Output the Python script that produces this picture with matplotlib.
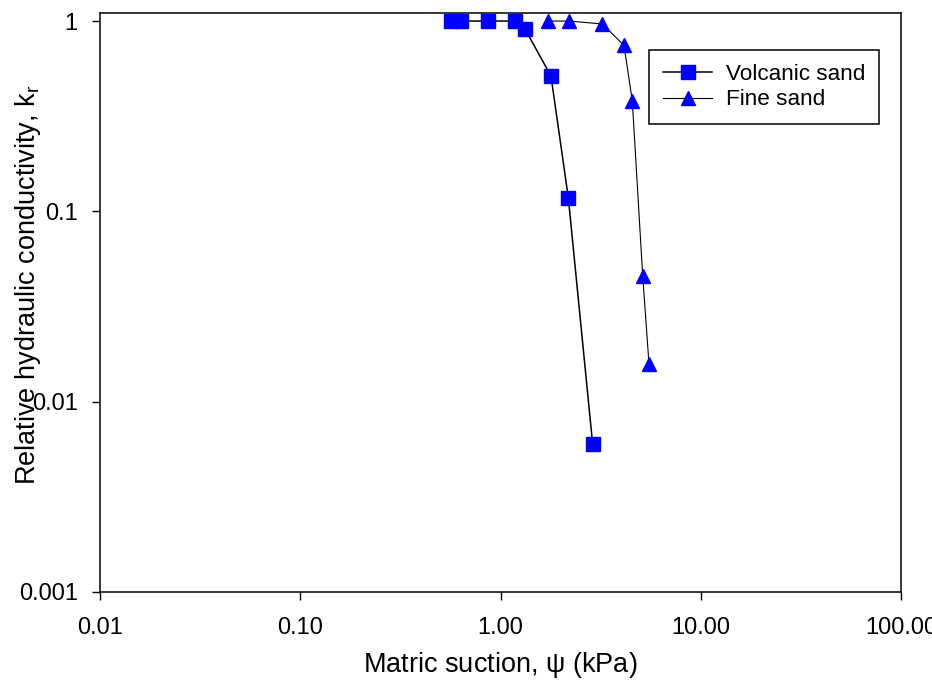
import matplotlib
matplotlib.use("Agg")
import matplotlib.pyplot as plt
from matplotlib.ticker import FixedLocator, FixedFormatter, NullLocator

plt.rcParams['font.family'] = ['Liberation Sans', 'DejaVu Sans']
plt.rcParams['mathtext.default'] = 'regular'

# Data
volcanic_x = [0.564, 0.633, 0.869, 1.181, 1.325, 1.787, 2.181, 2.886]
volcanic_y = [1.0, 1.0, 1.0, 1.0, 0.908, 0.514, 0.118, 0.00597]
fine_x = [1.733, 2.198, 3.225, 4.137, 4.551, 5.131, 5.515]
fine_y = [1.0, 1.0, 0.965, 0.745, 0.381, 0.0457, 0.0158]

x_ticks = [0.01, 0.1, 1, 10, 100]
x_tick_labels = ["0.01", "0.10", "1.00", "10.00", "100.00"]
y_ticks = [0.001, 0.01, 0.1, 1]
y_tick_labels = ["0.001", "0.01", "0.1", "1"]

W, H = 932, 684
fig = plt.figure(figsize=(W / 100, H / 100), dpi=100)
ax = fig.add_axes([100 / W, (H - 592) / H, (901 - 100) / W, (592 - 13.3) / H])

ax.plot(volcanic_x, volcanic_y, color='black', lw=1.1, marker='s', ms=9.5,
        mfc='#0000ff', mec='#0000ff', label='Volcanic sand', zorder=3)
ax.plot(fine_x, fine_y, color='black', lw=0.8, marker='^', ms=10.5,
        mfc='#0000ff', mec='#0000ff', label='Fine sand', zorder=3)

ax.set_xscale('log')
ax.set_yscale('log')
ax.set_xlim(0.01, 100)
ax.set_ylim(0.001, 1.098)

ax.xaxis.set_major_locator(FixedLocator(x_ticks))
ax.xaxis.set_major_formatter(FixedFormatter(x_tick_labels))
ax.xaxis.set_minor_locator(NullLocator())
ax.yaxis.set_major_locator(FixedLocator(y_ticks))
ax.yaxis.set_major_formatter(FixedFormatter(y_tick_labels))
ax.yaxis.set_minor_locator(NullLocator())

for s in ax.spines.values():
    s.set_linewidth(1.1)
ax.tick_params(axis='both', which='major', direction='out', length=6,
               width=1.0, labelsize=17, color='black')
ax.tick_params(axis='x', pad=12)
ax.tick_params(axis='y', pad=10)

ax.set_xlabel(r'Matric suction, $\psi$ (kPa)', fontsize=19.5)
ax.xaxis.set_label_coords(0.5, (592 - 665) / 578.7, transform=ax.transAxes)
ax.xaxis.label.set_va('center')
ax.set_ylabel(r'Relative hydraulic conductivity, k$_r$', fontsize=19.5)
ax.yaxis.set_label_coords((28 - 100) / 801, (592 - 285) / 578.7, transform=ax.transAxes)
ax.yaxis.label.set_va('center')

leg = ax.legend(loc='upper left', bbox_to_anchor=(649.3 / W, 1 - 50 / H),
                bbox_transform=fig.transFigure, fontsize=16.2, frameon=True,
                fancybox=False, edgecolor='black', framealpha=1,
                handlelength=2.2, handletextpad=0.6, labelspacing=0.22,
                borderpad=0.6, borderaxespad=0)
leg.get_frame().set_linewidth(1.1)

fig.savefig('out.png', dpi=100)
